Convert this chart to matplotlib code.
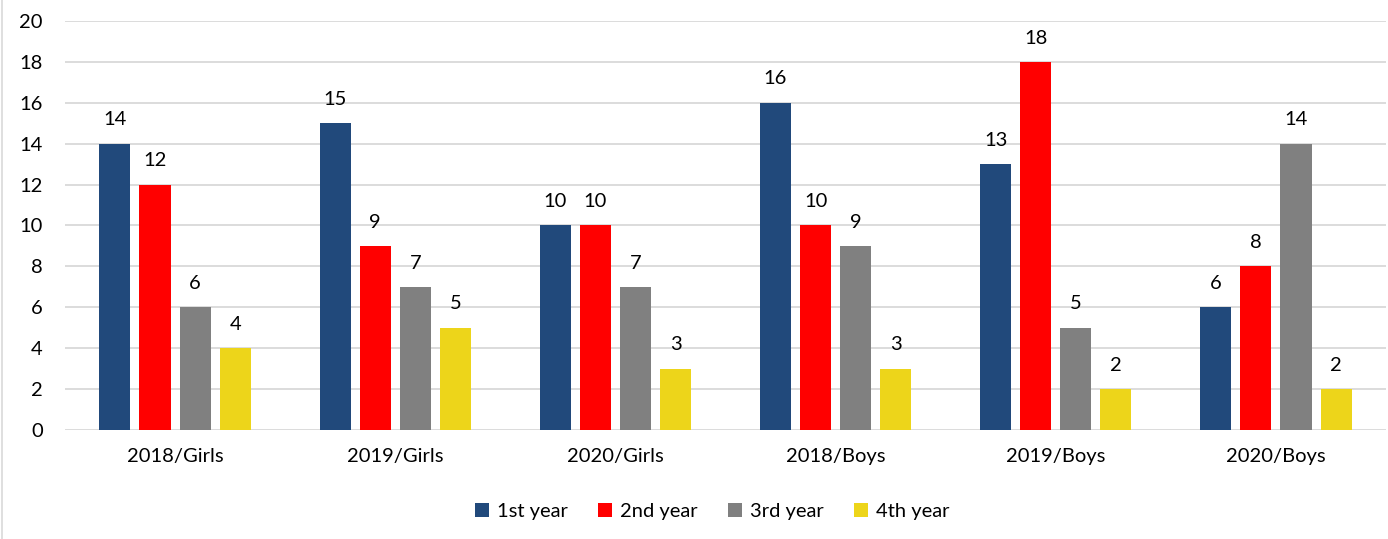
import matplotlib.pyplot as plt
import numpy as np

plt.rcParams['font.family'] = ['Lato', 'DejaVu Sans']

categories = ["2018/Girls", "2019/Girls", "2020/Girls", "2018/Boys", "2019/Boys", "2020/Boys"]
method_list = ["1st year", "2nd year", "3rd year", "4th year"]
year1 = [14, 15, 10, 16, 13, 6]
year2 = [12, 9, 10, 10, 18, 8]
year3 = [6, 7, 7, 9, 5, 14]
year4 = [4, 5, 3, 3, 2, 2]
y_ticks = [0, 2, 4, 6, 8, 10, 12, 14, 16, 18, 20]

series = [year1, year2, year3, year4]
colors = ['#21497B', '#FF0000', '#808080', '#EDD51A']

fig = plt.figure(figsize=(13.88, 5.39), dpi=100)
ax = fig.add_axes([0.0468, 0.2022, 0.9518, 0.759])

X = np.arange(len(categories))
step = 0.182
width = 0.141
for j in range(len(series)):
    pos = X + (j - 1.5) * step
    bars = ax.bar(pos, series[j], width=width, color=colors[j], label=method_list[j], zorder=3)
    for b, v in zip(bars, series[j]):
        ax.annotate(str(v), (b.get_x() + b.get_width() / 2, v), xytext=(0, 11),
                    textcoords='offset points', ha='center', va='bottom', fontsize=14.5, color='#000000')

ax.set_xlim(-0.5, len(categories) - 0.5)
ax.set_ylim(0, 20)
ax.set_yticks(y_ticks)
ax.set_xticks(X)
ax.set_xticklabels(categories)
ax.tick_params(axis='both', length=0, labelsize=14.5, colors='#000000')
ax.tick_params(axis='y', pad=16)
ax.tick_params(axis='x', pad=13)
ax.grid(axis='y', color='#D9D9D9', linewidth=1.3, zorder=0)
for s in ax.spines.values():
    s.set_visible(False)

ax.legend(loc='upper center', bbox_to_anchor=(0.49, -0.135), ncol=4, frameon=False,
          fontsize=14.5, handlelength=0.7, handleheight=0.7, handletextpad=0.4, columnspacing=1.5)

fig.add_artist(plt.Line2D([0.0015, 0.0015], [0, 1], color='#D9D9D9', linewidth=1.2, transform=fig.transFigure))

fig.savefig("out.png", dpi=100)
